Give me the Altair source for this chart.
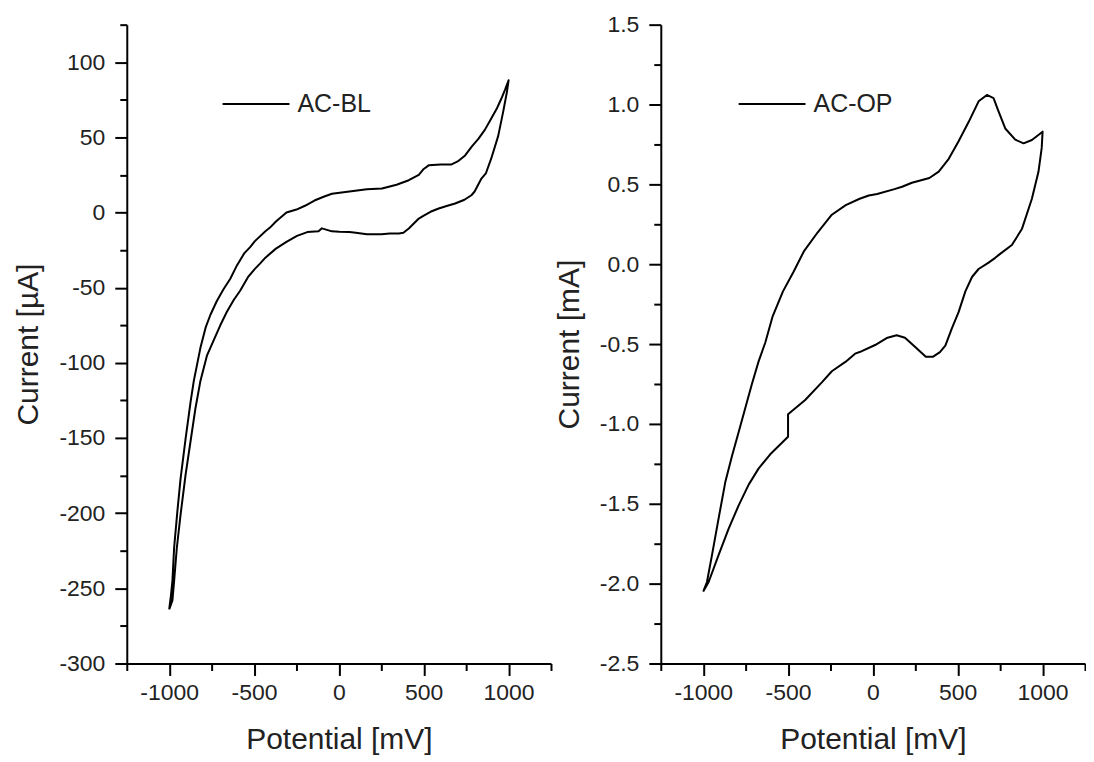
import altair as alt
import pandas as pd

# ---------------- AC-BL (left panel): potential [mV], current [µA] ----------------
BL_FWD_X = [-1000, -990, -981, -971, -952, -933, -903, -874, -855, -816, -784, -757,
            -720, -680, -640, -600, -557, -523, -495, -433, -406, -371, -309, -250,
            -200, -144, -90, -41, 62, 165, 254, 340, 412, 471, 500, 529, 600, 664,
            700, 744, 784, 822, 860, 898, 930, 957, 980, 1000]
BL_FWD_Y = [-264, -255, -245, -223, -199, -177, -150, -126, -112, -90, -76, -68,
            -59, -51, -44, -35, -27, -23, -19, -12.5, -10, -6, 0, 2,
            4.5, 8, 10.5, 12.5, 14, 15.5, 16, 18.5, 21.5, 25, 29, 31.4, 32, 32,
            34, 38, 44, 49, 55, 62.5, 69, 75.7, 82, 88]
BL_REV_X = [990, 968, 939, 898, 866, 840, 800, 781, 740, 685, 640, 588, 540, 500,
            471, 440, 412, 380, 354, 300, 250, 165, 100, 62, 3, -41, -100, -120,
            -186, -247, -309, -371, -433, -465, -495, -536, -582, -619, -660, -699,
            -742, -777, -816, -845, -874, -903, -933, -955, -971, -981, -1000]
BL_REV_Y = [80, 67, 51, 36, 26, 22.6, 14, 11.5, 8.5, 6, 4.5, 2.7, 0.5, -2,
            -4, -7.5, -10.6, -13.5, -14, -14, -14.5, -14.5, -13.5, -13, -12.8, -12.5, -10.5, -12.5,
            -13, -15.5, -19.5, -24, -30, -34, -37.5, -43, -52, -58, -66, -75,
            -86, -95, -112, -130, -152, -174, -201, -223, -245, -258, -264]

# ---------------- AC-OP (right panel): potential [mV], current [mA] ----------------
OP_FWD_X = [-1000, -978, -948, -909, -869, -830, -791, -752, -713, -674, -634, -592,
            -530, -469, -407, -325, -242, -160, -78, -24, 25, 127, 172, 230, 333,
            388, 447, 505, 564, 623, 672, 711, 741, 780, 839, 888, 937, 1000]
OP_FWD_Y = [-2.05, -1.99, -1.82, -1.59, -1.36, -1.20, -1.05, -0.90, -0.75, -0.61, -0.49, -0.33,
            -0.17, -0.05, 0.08, 0.20, 0.31, 0.37, 0.41, 0.43, 0.44, 0.47, 0.485, 0.51, 0.54,
            0.58, 0.66, 0.77, 0.89, 1.02, 1.06, 1.04, 0.955, 0.85, 0.78, 0.757, 0.778, 0.83]
OP_REV_X = [995, 976, 937, 878, 819, 744, 721, 682, 623, 584, 545, 505, 466, 427,
            395, 353, 312, 251, 189, 140, 86, 13, -78, -105, -160, -242, -301, -399,
            -500, -500, -605, -674, -732, -791, -850, -909, -968, -1000]
OP_REV_Y = [0.73, 0.58, 0.41, 0.22, 0.12, 0.06, 0.04, 0.01, -0.03, -0.08, -0.17, -0.30, -0.40, -0.51,
            -0.55, -0.58, -0.58, -0.52, -0.46, -0.445, -0.46, -0.506, -0.55, -0.56, -0.61, -0.67, -0.74, -0.85,
            -0.94, -1.08, -1.19, -1.28, -1.38, -1.51, -1.655, -1.82, -1.99, -2.05]

# ---------------- axis tick values ----------------
X_TICKS = [-1250, -1000, -750, -500, -250, 0, 250, 500, 750, 1000, 1250]
BL_Y_TICKS = [-300, -275, -250, -225, -200, -175, -150, -125, -100, -75, -50, -25,
              0, 25, 50, 75, 100, 125]
OP_Y_TICKS = [-2.5, -2.25, -2.0, -1.75, -1.5, -1.25, -1.0, -0.75, -0.5, -0.25,
              0.0, 0.25, 0.5, 0.75, 1.0, 1.25, 1.5]

FONT = "Liberation Sans"
TXT = "#222222"
W, H = 425, 640
SYM = 67


def loop_frame(fx, fy, rx, ry, name):
    xs = fx + rx
    ys = fy + ry
    return pd.DataFrame({"potential": xs, "current": ys,
                         "idx": list(range(len(xs))), "series": [name] * len(xs)})


def minus(expr):
    return f"replace({expr}, '\u2212', '-')"


COMMON = dict(grid=False, domainColor="black", domainWidth=2, tickColor="black", tickWidth=2,
              labelFont=FONT, labelFontSize=23, labelColor=TXT,
              titleFont=FONT, titleFontSize=30, titleFontWeight="normal", titleColor=TXT)


def make_panel(df, name, ytitle, ydomain, yticks, ymajor, yfmt, legx, legy):
    xaxis = alt.Axis(
        title="Potential [mV]", values=X_TICKS,
        labelExpr=f"datum.value % 500 === 0 ? {minus('format(datum.value, \"d\")')} : ''",
        tickSize={"condition": {"test": "datum.value % 500 === 0", "value": 12}, "value": 7},
        labelPadding=6, titlePadding=20, **COMMON,
    )
    yaxis = alt.Axis(
        title=ytitle, values=yticks,
        labelExpr=f"datum.value % {ymajor} === 0 ? {minus('format(datum.value, \"' + yfmt + '\")')} : ''",
        tickSize={"condition": {"test": f"datum.value % {ymajor} === 0", "value": 12}, "value": 7},
        labelPadding=10, titlePadding=15, **COMMON,
    )
    return alt.Chart(df).mark_line(strokeWidth=2, strokeJoin="round").encode(
        x=alt.X("potential:Q", scale=alt.Scale(domain=[-1250, 1250], nice=False, zero=False), axis=xaxis),
        y=alt.Y("current:Q", scale=alt.Scale(domain=ydomain, nice=False, zero=False), axis=yaxis),
        order="idx:Q",
        color=alt.Color("series:N", scale=alt.Scale(domain=[name], range=["black"]),
                        legend=alt.Legend(title=None, orient="none", legendX=legx, legendY=legy,
                                          symbolType="stroke", symbolSize=SYM * SYM,
                                          symbolStrokeWidth=2, labelFontSize=25, labelFont=FONT,
                                          labelColor=TXT, labelOffset=7, padding=0)),
    ).properties(width=W, height=H)


left = make_panel(loop_frame(BL_FWD_X, BL_FWD_Y, BL_REV_X, BL_REV_Y, "AC-BL"), "AC-BL",
                  "Current [µA]", [-300, 125], BL_Y_TICKS, 50, "d", 95, 45)
right = make_panel(loop_frame(OP_FWD_X, OP_FWD_Y, OP_REV_X, OP_REV_Y, "AC-OP"), "AC-OP",
                   "Current [mA]", [-2.5, 1.5], OP_Y_TICKS, 0.5, ".1f", 77, 45)

chart = alt.hconcat(left, right, spacing=2).resolve_scale(color="independent").resolve_legend(
    color="independent"
).properties(
    padding={"left": 5, "top": 5, "right": 0, "bottom": 0}, background="white"
).configure_view(stroke=None)

chart.save("out.html", embed_options={"renderer": "svg", "actions": False})
